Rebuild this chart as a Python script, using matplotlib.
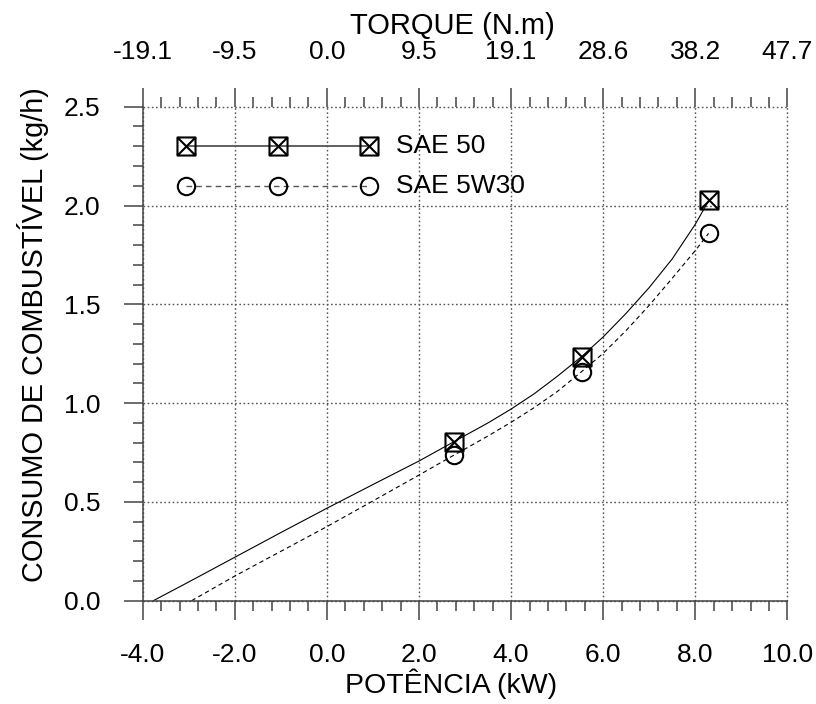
import matplotlib
matplotlib.use("Agg")
import matplotlib.pyplot as plt
from matplotlib.path import Path
from matplotlib.ticker import MultipleLocator

plt.rcParams['font.family'] = ['Liberation Sans', 'DejaVu Sans']

# dados medidos
potencia = [2.77, 5.53, 8.30]
sae50 = [0.805, 1.235, 2.028]
sae5w30 = [0.737, 1.159, 1.859]

# curvas de ajuste
curva50_x = [-3.77, -3.0, -2.0, -1.0, 0.0, 1.0, 2.0, 2.76, 3.0, 3.5, 4.0, 4.5, 5.0, 5.53,
             6.0, 6.5, 7.0, 7.5, 8.0, 8.30]
curva50_y = [0.00, 0.095, 0.22, 0.345, 0.468, 0.588, 0.707, 0.805, 0.836, 0.900, 0.970, 1.047,
             1.135, 1.235, 1.335, 1.455, 1.585, 1.73, 1.905, 2.028]
curva5w30_x = [-2.94, -2.0, -1.0, 0.0, 1.0, 2.0, 2.76, 3.0, 3.5, 4.0, 4.5, 5.0, 5.53,
               6.0, 6.5, 7.0, 7.5, 8.0, 8.29]
curva5w30_y = [0.00, 0.125, 0.25, 0.375, 0.505, 0.636, 0.737, 0.768, 0.834, 0.903, 0.977, 1.058,
               1.159, 1.252, 1.368, 1.495, 1.632, 1.772, 1.859]

# eixos
x_ticks = [-4, -2, 0, 2, 4, 6, 8, 10]
torque_labels = ["-19.1", "-9.5", "0.0", "9.5", "19.1", "28.6", "38.2", "47.7"]
y_ticks = [0.0, 0.5, 1.0, 1.5, 2.0, 2.5]

# legenda manual
leg_x = [-3.06, -1.07, 0.92]
leg_y = [2.30, 2.10]
leg_nomes = ["SAE 50", "SAE 5W30"]

# marcador quadrado com X
quadx = Path([(-1, -1), (1, -1), (1, 1), (-1, 1), (-1, -1), (-1, -1), (1, 1), (-1, 1), (1, -1)],
             [Path.MOVETO, Path.LINETO, Path.LINETO, Path.LINETO, Path.CLOSEPOLY,
              Path.MOVETO, Path.LINETO, Path.MOVETO, Path.LINETO])

cinza = "#444444"
fig = plt.figure(figsize=(8.16, 7.04), dpi=100)
ax = fig.add_axes([0.1749, 0.1467, 0.790, 0.7017])

ax.plot(curva50_x, curva50_y, color="black", lw=0.8)
ax.plot(curva5w30_x, curva5w30_y, color="black", lw=0.8, ls=(0, (4, 3)))
ax.plot(potencia, sae50, ls="none", marker=quadx, ms=13, mfc="none", mec="black", mew=1.5, zorder=5)
ax.plot(potencia, sae5w30, ls="none", marker="o", ms=12.5, mfc="none", mec="black", mew=1.5, zorder=5)

# legenda
ax.plot(leg_x, [leg_y[0]] * 3, color="#555555", lw=1.3, marker=quadx, ms=13, mfc="none", mec="black", mew=1.5)
ax.plot(leg_x, [leg_y[1]] * 3, color="#555555", lw=1.0, ls=(0, (4, 3)), marker="o", ms=12.5,
        mfc="none", mec="black", mew=1.5)
for yy, nome in zip(leg_y, leg_nomes):
    ax.text(1.51, yy, nome, fontsize=19, va="center", ha="left")

ax.set_xlim(-4, 10)
ax.set_ylim(0, 2.5)
ax.set_xticks(x_ticks)
ax.set_xticklabels(["%.1f" % v for v in x_ticks])
ax.set_yticks(y_ticks)
ax.set_yticklabels(["%.1f" % v for v in y_ticks])
ax.xaxis.set_minor_locator(MultipleLocator(0.4))
ax.yaxis.set_minor_locator(MultipleLocator(0.1))

ax.spines["top"].set_visible(False)
ax.spines["right"].set_visible(False)
for s in ["left", "bottom"]:
    ax.spines[s].set_color(cinza)
    ax.spines[s].set_linewidth(1.1)

ax.tick_params(which="major", direction="out", length=13.5, width=1.1, color=cinza,
               labelsize=19, pad=17)
ax.tick_params(which="minor", direction="out", length=7, width=1.1, color=cinza)

ax.grid(True, which="major", ls=(0, (1.2, 1.8)), color="#555555", lw=1.0)
for ln in ax.get_xgridlines() + ax.get_ygridlines():
    ln.set_clip_on(False)

ax.set_xlabel("POTÊNCIA (kW)", fontsize=20.5)
ax.xaxis.set_label_coords(0.478, -0.138)
ax.set_ylabel("CONSUMO DE COMBUSTÍVEL (kg/h)", fontsize=20.8)
ax.yaxis.set_label_coords(-0.145, 0.538)

# eixo de torque no topo
ax2 = ax.twiny()
ax2.set_xlim(ax.get_xlim())
ax2.set_xticks(x_ticks)
ax2.set_xticklabels(torque_labels)
ax2.xaxis.set_minor_locator(MultipleLocator(0.4))
for s in ax2.spines.values():
    s.set_visible(False)
ax2.tick_params(which="major", direction="out", length=13.5, width=1.1, color=cinza,
                labelsize=19, pad=17)
ax2.tick_params(which="minor", direction="out", length=7, width=1.1, color=cinza)
ax2.set_xlabel("TORQUE (N.m)", fontsize=21)
ax2.xaxis.set_label_coords(0.48, 1.148)

fig.savefig("out.png", dpi=100)
